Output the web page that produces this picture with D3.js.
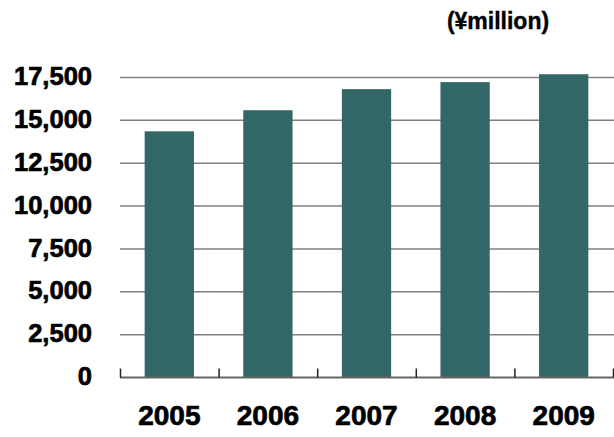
<!DOCTYPE html>
<html><head><meta charset="utf-8">
<script src="https://cdn.jsdelivr.net/npm/d3@7"></script>
<style>body{margin:0;background:#fff}svg{display:block}</style>
</head><body>
<script>
const years = ["2005","2006","2007","2008","2009"];
const sales = [14360, 15590, 16820, 17230, 17690];
const yTicks = [0, 2500, 5000, 7500, 10000, 12500, 15000, 17500];
const unitLabel = "(¥million)";

const W = 614, H = 437;
const svg = d3.select("body").append("svg").attr("width", W).attr("height", H);
const font = "'Liberation Sans', Arial, sans-serif";

const x = d3.scaleBand().domain(years).range([120, 613]).paddingInner(0.5).paddingOuter(0.25);
const y = d3.scaleLinear().domain([0, 17500]).range([377.5, 77.5]);

// gridlines
svg.append("g").selectAll("line").data(yTicks.filter(d => d > 0)).join("line")
  .attr("x1", 120).attr("x2", 614)
  .attr("y1", d => y(d)).attr("y2", d => y(d))
  .attr("stroke", "#808080").attr("stroke-width", 1.5);

// bars
svg.append("g").selectAll("rect").data(years).join("rect")
  .attr("x", d => x(d)).attr("width", x.bandwidth())
  .attr("y", (d, i) => y(sales[i]))
  .attr("height", (d, i) => y(0) - y(sales[i]))
  .attr("fill", "#336666");

// x axis
const xAxis = d3.axisBottom(x).tickSize(0).tickPadding(28).tickSizeOuter(0);
const gx = svg.append("g").attr("transform", `translate(0,${y(0)})`).call(xAxis);
gx.select(".domain").remove();
gx.append("line").attr("x1", 120).attr("x2", 614).attr("y1", 0).attr("y2", 0)
  .attr("stroke", "#666").attr("stroke-width", 2);
const step = x.step();
gx.selectAll("line.tk").data(d3.range(years.length + 1)).join("line").attr("class", "tk")
  .attr("x1", i => 120.5 + i * step).attr("x2", i => 120.5 + i * step)
  .attr("y1", -9).attr("y2", 0).attr("stroke", "#222").attr("stroke-width", 1.5);
gx.selectAll("text").attr("font-family", font).attr("font-weight", "bold")
  .attr("font-size", 28).attr("fill", "#000")
  .attr("stroke", "#000").attr("stroke-width", 0.7);

// y axis
const yAxis = d3.axisLeft(y).tickValues(yTicks).tickSize(0).tickPadding(0)
  .tickFormat(d3.format(","));
const gy = svg.append("g").attr("transform", "translate(92,0)").call(yAxis);
gy.select(".domain").remove();
gy.selectAll("text").attr("font-family", font).attr("font-weight", "bold")
  .attr("font-size", 25.5).attr("fill", "#000").attr("dy", "0.28em")
  .attr("stroke", "#000").attr("stroke-width", 0.7);

// unit label
svg.append("text").attr("x", 498).attr("y", 29).attr("text-anchor", "middle")
  .attr("font-family", font).attr("font-weight", "bold").attr("font-size", 23)
  .attr("stroke", "#000").attr("stroke-width", 0.4)
  .text(unitLabel);
</script>
</body></html>
